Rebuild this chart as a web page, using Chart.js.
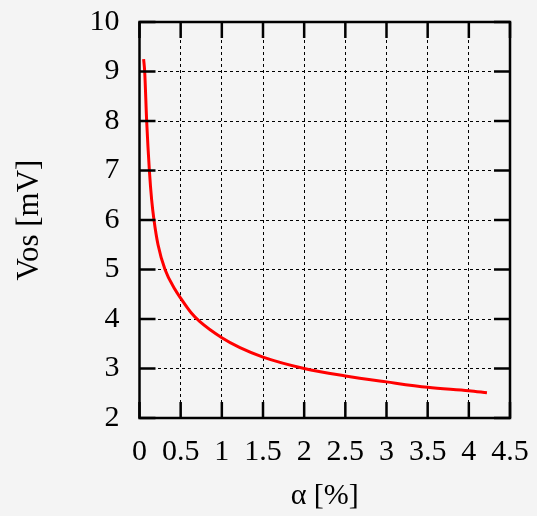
<!DOCTYPE html>
<html>
<head>
<meta charset="utf-8">
<script src="https://cdn.jsdelivr.net/npm/chart.js@4"></script>
<style>
  html, body { margin: 0; padding: 0; background: #f4f4f4; }
  #wrap { width: 537px; height: 516px; }
</style>
</head>
<body>
<div id="wrap"><canvas id="vosChart"></canvas></div>
<script>
// offset voltage vs alpha
const alphaPct = [0.05, 0.063, 0.087, 0.12, 0.148, 0.176, 0.225, 0.31, 0.43, 0.5, 0.63, 0.73, 1.0, 1.22, 1.5, 2.0, 2.5, 3.0, 3.5, 4.0, 4.22];
const vosMv = [9.25, 9.0, 8.0, 7.0, 6.4, 6.0, 5.5, 5.0, 4.6, 4.42, 4.12, 3.95, 3.62, 3.42, 3.23, 3.0, 2.85, 2.73, 2.62, 2.55, 2.51];

const xTicks = [0, 0.5, 1, 1.5, 2, 2.5, 3, 3.5, 4, 4.5];
const yTicks = [2, 3, 4, 5, 6, 7, 8, 9, 10];

const serif = "'Liberation Serif', 'Times New Roman', serif";

// gnuplot-ish frame with inward ticks on all four sides
const framePlugin = {
  id: 'frame',
  afterDraw(chart) {
    const { ctx, chartArea: a, scales } = chart;
    const len = 16;
    ctx.save();
    ctx.strokeStyle = '#000';
    ctx.lineWidth = 2.5;
    ctx.beginPath();
    xTicks.forEach(v => {
      const px = scales.x.getPixelForValue(v);
      ctx.moveTo(px, a.bottom); ctx.lineTo(px, a.bottom - len);
      ctx.moveTo(px, a.top); ctx.lineTo(px, a.top + len);
    });
    yTicks.forEach(v => {
      const py = scales.y.getPixelForValue(v);
      ctx.moveTo(a.left, py); ctx.lineTo(a.left + len, py);
      ctx.moveTo(a.right, py); ctx.lineTo(a.right - len, py);
    });
    ctx.stroke();
    ctx.strokeRect(a.left, a.top, a.right - a.left, a.bottom - a.top);
    ctx.restore();
  }
};

const ctx = document.getElementById('vosChart').getContext('2d');
new Chart(ctx, {
  type: 'line',
  data: {
    datasets: [{
      data: alphaPct.map((a, i) => ({ x: a, y: vosMv[i] })),
      borderColor: '#ff0000',
      borderWidth: 3,
      pointRadius: 0,
      cubicInterpolationMode: 'monotone',
      fill: false
    }]
  },
  options: {
    responsive: true,
    maintainAspectRatio: false,
    animation: false,
    layout: { padding: { top: 22, right: 27, left: 0, bottom: 0 } },
    plugins: { legend: { display: false }, tooltip: { enabled: false } },
    scales: {
      x: {
        type: 'linear',
        min: 0, max: 4.5,
        afterFit(scale) {
          scale.height = 98;
          scale.paddingLeft = 0;
          scale.paddingRight = 0;
        },
        afterBuildTicks(scale) { scale.ticks = xTicks.map(v => ({ value: v })); },
        ticks: {
          color: '#000', font: { family: serif, size: 30 }, padding: 16, maxRotation: 0, autoSkip: false,
          callback: v => String(v)
        },
        grid: { color: '#000', lineWidth: 1, drawTicks: false },
        border: { display: false, dash: [3, 3] },
        title: { display: true, text: 'α [%]', color: '#000', font: { family: serif, size: 30 }, padding: { top: 0, bottom: 2 } }
      },
      y: {
        min: 2, max: 10,
        afterFit(scale) {
          scale.width = 139.5;
          scale.paddingTop = 0;
          scale.paddingBottom = 0;
        },
        afterBuildTicks(scale) { scale.ticks = yTicks.map(v => ({ value: v })); },
        ticks: {
          color: '#000', font: { family: serif, size: 30 }, padding: 20, autoSkip: false,
          callback: v => String(v)
        },
        grid: { color: '#000', lineWidth: 1, drawTicks: false },
        border: { display: false, dash: [3, 3] },
        title: { display: true, text: 'Vos [mV]', color: '#000', font: { family: serif, size: 31 }, padding: { top: 11, bottom: 0 } }
      }
    }
  },
  plugins: [framePlugin]
});
</script>
</body>
</html>
